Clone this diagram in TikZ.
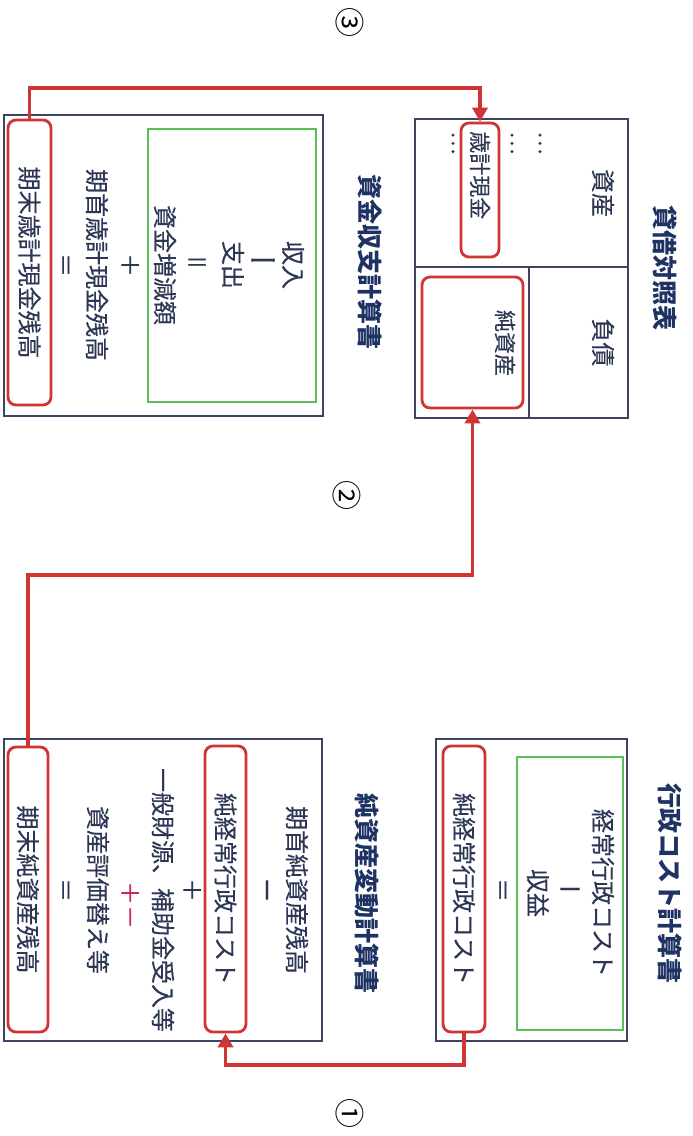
\documentclass[tikz,border=0pt]{standalone}
\usepackage{fontspec}
\newfontfamily\jp[FakeBold=0.25]{Noto Sans CJK JP}
\newfontfamily\jpt{Noto Sans CJK JP}
\usetikzlibrary{arrows.meta}
\definecolor{boxc}{RGB}{60,68,95}
\definecolor{txt}{RGB}{45,55,85}
\definecolor{navy}{RGB}{30,50,100}
\definecolor{redl}{RGB}{208,52,52}
\definecolor{grn}{RGB}{90,190,90}
\definecolor{mag}{RGB}{200,40,90}
\tikzset{
  panel/.style={draw=boxc, line width=1.2pt, inner sep=0pt},
  greenbox/.style={draw=grn, line width=1.4pt, inner sep=0pt},
  redbox/.style={draw=redl, line width=2.8pt, rounded corners=8pt, inner sep=0pt, font=\jp\fontsize{24}{24}\selectfont, text=txt},
  lbl/.style={font=\jp\fontsize{24}{24}\selectfont, text=txt, inner sep=0pt},
  small/.style={font=\jp\fontsize{22}{22}\selectfont, text=txt, inner sep=0pt},
  ttl/.style={font=\jpt\bfseries\fontsize{25}{25}\selectfont, text=navy, inner sep=0pt},
  num/.style={font=\jpt\fontsize{30}{30}\selectfont, text=black, inner sep=0pt},
  link/.style={draw=redl, line width=3.5pt, -{Triangle[length=14pt,width=15pt]}},
  divider/.style={draw=boxc, line width=1.2pt},
  upright/.style={rotate=90},
}
\begin{document}
\begin{tikzpicture}[x=1pt,y=1pt]
\useasboundingbox (0,0) rectangle (693,-1136);
\fill[white] (0,0) rectangle (693,-1136);
\begin{scope}[shift={(693,0)}, rotate=-90, transform shape]
% titles
\node[ttl] (t1) at (268,-28) {貸借対照表};
\node[ttl] (t2) at (883,-23) {行政コスト計算書};
\node[ttl] (t3) at (262,-323) {資金収支計算書};
\node[ttl] (t4) at (893,-326) {純資産変動計算書};
% balance sheet
\node[panel, minimum width=299pt, minimum height=213pt] (bs) at (268.5,-171.5) {};
\draw[divider] (267,-65) -- (267,-278);
\draw[divider] (267,-164) -- (418,-164);
\node[lbl] (bs1) at (193,-90) {資産};
\node[lbl] (bs2) at (342.5,-90) {負債};
\node[small] (d1) at (143,-153) {…};
\node[small] (d2) at (143,-181) {…};
\node[small] (d3) at (143,-240) {…};
\node[redbox, minimum width=134pt, minimum height=38pt] (saikei) at (190,-213) {};
\node[small, anchor=west] (saikeit) at (131,-213) {歳計現金};
\node[redbox, minimum width=131pt, minimum height=101pt] (js) at (342.5,-220.5) {};
\node[small] (jst) at (343,-188) {純資産};
% cash flow statement
\node[panel, minimum width=301pt, minimum height=319pt] (cf) at (265.5,-529.5) {};
\node[greenbox, minimum width=273pt, minimum height=168pt] (cfg) at (265.5,-461) {};
\node[lbl] (cf1) at (265,-400) {収入};
\node[lbl, upright, font=\jp\fontsize{29}{29}\selectfont] (cf2) at (265,-430) {ー};
\node[lbl] (cf3) at (265,-460) {支出};
\node[lbl, upright] (cf4) at (265,-496) {＝};
\node[lbl] (cf5) at (265,-528) {資金増減額};
\node[lbl] (cf6) at (265,-563) {＋};
\node[lbl] (cf7) at (265,-596) {期首歳計現金残高};
\node[lbl] (cf8) at (265,-630) {＝};
\node[redbox, minimum width=285pt, minimum height=43pt] (kc) at (262.5,-663.5) {期末歳計現金残高};
% administrative cost statement
\node[panel, minimum width=302pt, minimum height=191pt] (gc) at (890,-161.5) {};
\node[greenbox, minimum width=273pt, minimum height=106pt] (gcg) at (893.5,-123) {};
\node[lbl] (gc1) at (893,-90) {経常行政コスト};
\node[lbl, upright] (gc2) at (893,-123) {ー};
\node[lbl] (gc3) at (893,-155) {収益};
\node[lbl] (gc4) at (890,-193) {＝};
\node[redbox, minimum width=286pt, minimum height=42pt] (gcr) at (889,-229) {純経常行政コスト};
% net assets change statement
\node[panel, minimum width=302pt, minimum height=318pt] (na) at (890,-530) {};
\node[lbl] (na1) at (890,-396) {期首純資産残高};
\node[lbl] (na2) at (890,-430) {ー};
\node[redbox, minimum width=286pt, minimum height=41pt] (nr) at (889,-467.5) {純経常行政コスト};
\node[lbl] (na3) at (890,-501) {＋};
\node[lbl] (na4) at (900,-530) {一般財源、補助金受入等};
\node[lbl, text=mag] (na5) at (905,-563) {＋－};
\node[lbl] (na6) at (890,-595) {資産評価替え等};
\node[lbl] (na7) at (890,-630) {＝};
\node[redbox, minimum width=285pt, minimum height=40pt] (kn) at (889.5,-665) {期末純資産残高};
% circled numbers
\node[num] (n3) at (22,-343) {③};
\node[num] (n2) at (495,-346) {②};
\node[num] (n1) at (1113,-343) {①};
% connectors
\coordinate (b1) at (1065,-229);
\coordinate (b2) at (575,-665);
\coordinate (b3) at (88,-663.5);
\draw[link] (gcr.east) -- (b1) |- (nr.east);
\draw[link] (kn.west) -- (b2) |- (js.east);
\draw[link] (kc.west) -- (b3) |- (saikei.west);
\end{scope}
\end{tikzpicture}
\end{document}
